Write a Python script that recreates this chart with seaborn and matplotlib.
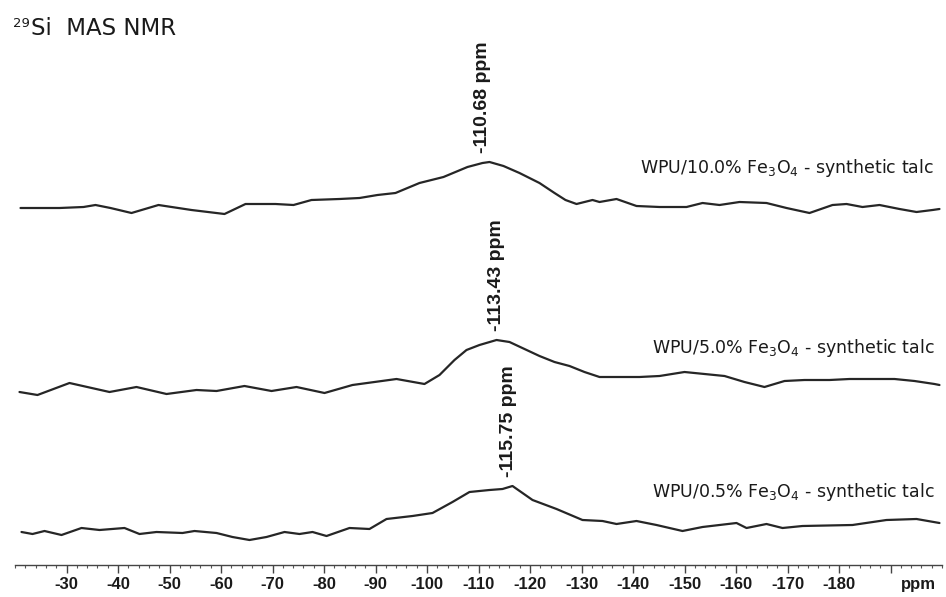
import numpy as np
import pandas as pd
import matplotlib
matplotlib.use("Agg")
import matplotlib.pyplot as plt
import seaborn as sns
from matplotlib.ticker import FixedLocator, MultipleLocator, FixedFormatter

# ---------------- data ----------------
samples = ["WPU/10.0% Fe$_3$O$_4$ - synthetic talc",
           "WPU/5.0% Fe$_3$O$_4$ - synthetic talc",
           "WPU/0.5% Fe$_3$O$_4$ - synthetic talc"]
peak_labels = ["-110.68 ppm", "-113.43 ppm", "-115.75 ppm"]
peak_ppm = [-110.68, -113.43, -115.75]
offsets = [324, 144, 0]          # vertical stacking (a.u.)

ppm_10 = [-21.07, -28.64, -33.30, -35.63, -38.54, -42.62, -47.86, -54.27, -60.68, -64.76,
          -70.58, -74.08, -77.57, -83.01, -86.89, -90.39, -93.88, -98.54, -103.20, -107.86,
          -110.78, -112.14, -114.85, -117.96, -121.84, -124.76, -126.89, -129.03, -132.14,
          -133.50, -136.80, -140.68, -145.15, -150.39, -153.50, -156.80, -160.68, -165.92,
          -169.81, -174.27, -178.74, -181.46, -184.56, -187.86, -191.75, -195.05, -198.16,
          -199.51]
int_10 = [0, 0, 1, 3, 0, -5, 3, -2, -6, 4,
          4, 3, 8, 9, 10, 13, 15, 25, 31, 41,
          45, 46, 42, 35, 25, 15, 8, 4, 8,
          6, 9, 2, 1, 1, 5, 3, 6, 5,
          0, -5, 3, 4, 1, 3, -1, -4, -2,
          -1]

ppm_5 = [-20.87, -24.37, -30.58, -38.35, -43.59, -49.42, -55.24, -59.13, -64.56, -69.81,
         -74.66, -80.10, -85.53, -94.08, -99.51, -102.43, -105.34, -107.67, -110.19, -113.50,
         -116.02, -118.93, -121.84, -124.76, -127.67, -130.58, -133.50, -137.38, -141.26,
         -145.15, -150.00, -153.88, -157.77, -161.65, -165.53, -169.42, -173.30, -178.16,
         -182.04, -185.92, -190.78, -194.66, -198.54, -199.51]
int_5 = [-4, -7, 5, -4, 1, -6, -2, -3, 2, -3,
         1, -5, 3, 9, 4, 13, 28, 38, 43, 48,
         46, 39, 32, 26, 22, 16, 11, 11, 11,
         12, 16, 14, 12, 6, 1, 7, 8, 8,
         9, 9, 9, 7, 4, 3]

ppm_05 = [-21.26, -23.40, -25.73, -29.03, -32.91, -36.41, -41.26, -44.17, -47.48, -52.52,
          -54.85, -59.13, -62.23, -65.53, -68.83, -72.33, -75.24, -77.77, -80.49, -84.95,
          -88.83, -92.14, -97.18, -101.07, -104.95, -108.25, -112.14, -114.66, -116.60,
          -120.49, -125.15, -130.19, -134.08, -136.80, -140.68, -144.56, -149.61, -153.50,
          -160.10, -162.04, -165.92, -169.03, -172.91, -182.62, -189.22, -195.05, -199.51]
int_05 = [0, -2, 1, -3, 4, 2, 4, -2, 0, -1,
          1, -1, -5, -8, -5, 0, -2, 0, -4, 4,
          3, 13, 16, 19, 30, 40, 42, 43, 46,
          32, 23, 12, 11, 8, 11, 7, 1, 5,
          9, 4, 8, 4, 6, 7, 12, 13, 9]

major_ticks = [-30, -40, -50, -60, -70, -80, -90, -100, -110, -120,
               -130, -140, -150, -160, -170, -180, -190]
tick_labels = ["-30", "-40", "-50", "-60", "-70", "-80", "-90", "-100", "-110", "-120",
               "-130", "-140", "-150", "-160", "-170", "-180", ""]
unit_label = "ppm"
title_sup = "29"
title_main = "Si  MAS NMR"

# ---------------- styling ----------------
sns.set_theme(style="white")
plt.rcParams['font.family'] = ['Liberation Sans', 'DejaVu Sans']
plt.rcParams['mathtext.fontset'] = 'dejavusans'

W, H = 946, 597
fig = plt.figure(figsize=(W / 100, H / 100), dpi=100)
fig.patch.set_facecolor("white")
ax = fig.add_axes([15 / W, 32 / H, 927 / W, 565 / H])
ax.set_facecolor("white")

line_color = "#262626"
series = [(ppm_10, int_10), (ppm_5, int_5), (ppm_05, int_05)]
frames = []
for name, (p, i), off in zip(samples, series, offsets):
    frames.append(pd.DataFrame({"ppm": p, "intensity": np.array(i) + off, "sample": name}))
df = pd.concat(frames, ignore_index=True)

sns.lineplot(data=df, x="ppm", y="intensity", units="sample", estimator=None,
             sort=False, color=line_color, lw=1.6, ax=ax, legend=False)

ax.set_xlim(-20, -200)
ax.set_ylim(-33, 532)

for s in ["top", "left", "right"]:
    ax.spines[s].set_visible(False)
ax.spines["bottom"].set_color("#444444")
ax.spines["bottom"].set_linewidth(1.0)
ax.xaxis.set_major_locator(FixedLocator(major_ticks))
ax.xaxis.set_major_formatter(FixedFormatter(tick_labels))
ax.xaxis.set_minor_locator(MultipleLocator(2))
ax.tick_params(axis="x", which="major", bottom=True, direction="out", length=5.5,
               width=1.0, color="#444444", pad=3, labelsize=12, labelcolor="#1a1a1a")
ax.tick_params(axis="x", which="minor", bottom=True, direction="out", length=2.5,
               width=0.8, color="#555555")
for lab in ax.get_xticklabels():
    lab.set_fontweight("bold")
ax.set_yticks([])
ax.set_xlabel("")
ax.set_ylabel("")

# unit label at end of axis (same row as the tick labels)
ax.text(-195.5, -11.5 / 565, unit_label, transform=ax.get_xaxis_transform(),
        ha="center", va="top", fontsize=12, fontweight="bold", color="#1a1a1a")

# sample labels on the right
for name, off in zip(samples, offsets):
    ax.text(-198.5, off + 35, name, ha="right", va="baseline",
            fontsize=12.5, family="DejaVu Sans", color="#1a1a1a")

# peak labels (rotated)
for lab, pk, off, inten in zip(peak_labels, peak_ppm, offsets, [int_10, int_5, int_05]):
    ax.text(pk, off + max(inten) + 9, lab, rotation=90, ha="center", va="bottom",
            fontsize=14, fontweight="bold", color="#1a1a1a")

# title
fig.text(13 / W, 1 - 27 / H, title_sup, fontsize=9.5, family="DejaVu Sans",
         va="baseline", color="#1a1a1a")
fig.text(31 / W, 1 - 35 / H, title_main, fontsize=16.5, family="DejaVu Sans",
         va="baseline", color="#1a1a1a")

fig.savefig("out.png", dpi=100, facecolor="white")
